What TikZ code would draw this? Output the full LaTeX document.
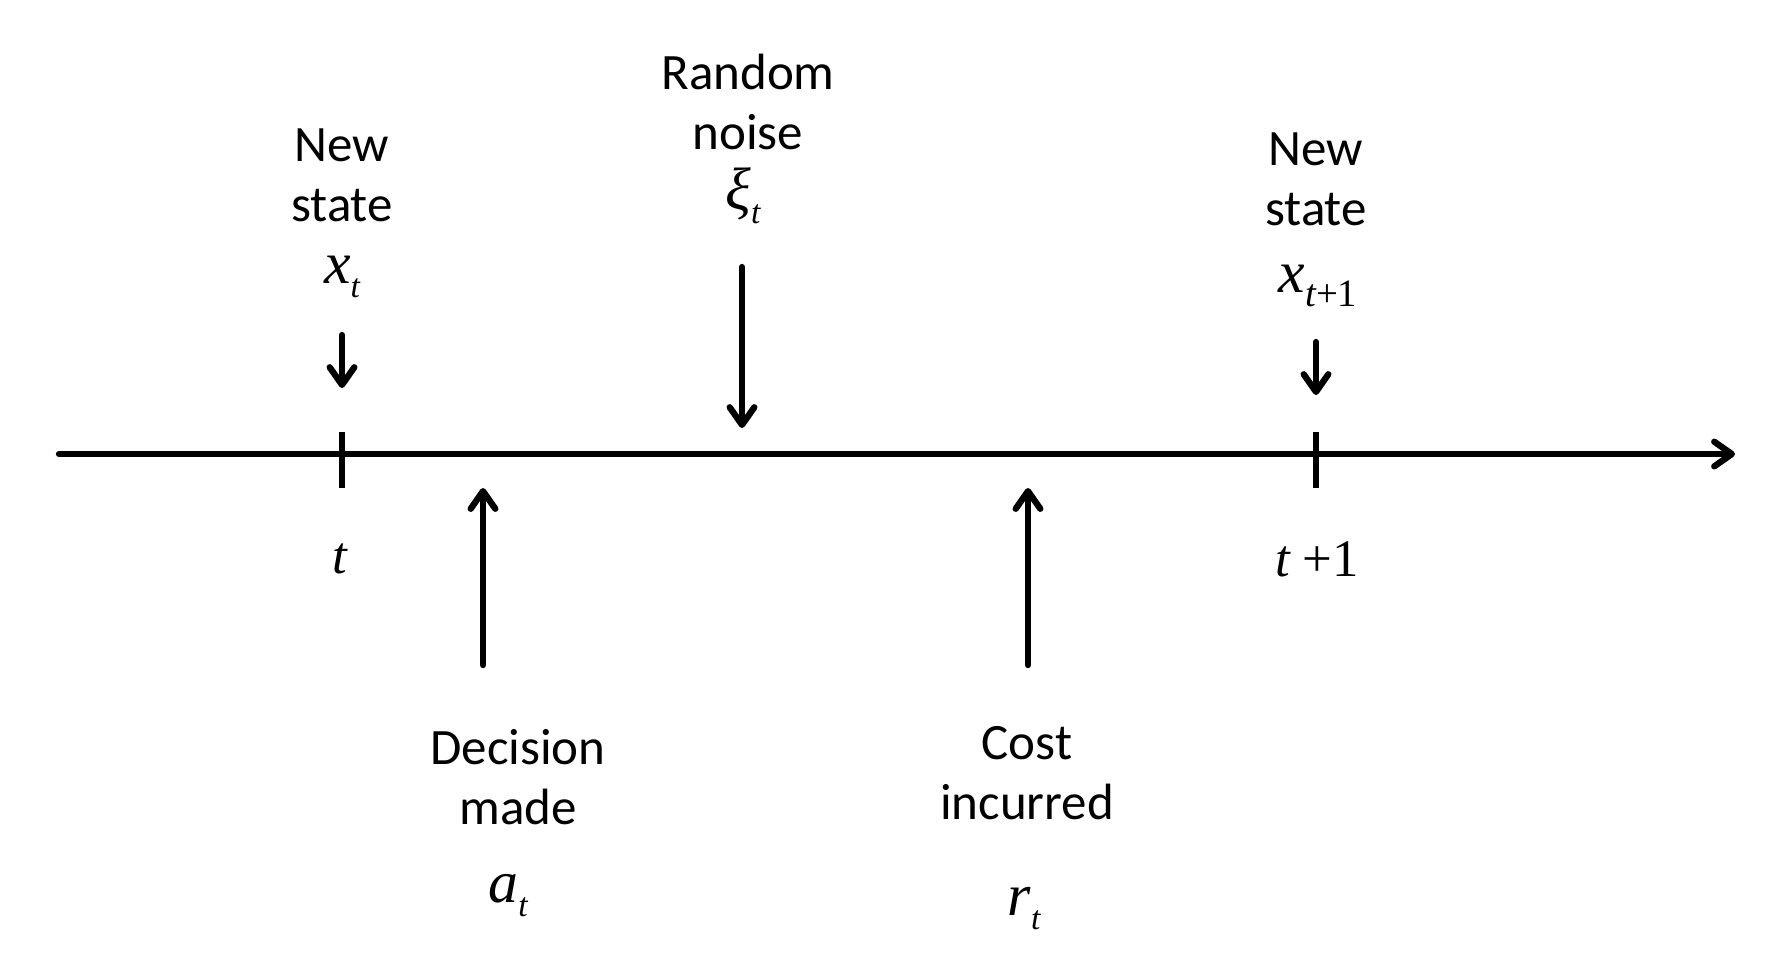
\documentclass[tikz,border=0pt]{standalone}
\usepackage{fontspec}
\setmainfont{Carlito}
\newfontfamily\tms{Liberation Serif}
\newcommand{\vsub}[1]{\raisebox{-4pt}{\fontsize{9.5}{10}\selectfont #1}}
\usetikzlibrary{arrows.meta}
\begin{document}
\begin{tikzpicture}[x=0.01cm, y=-0.01cm,
    word/.style={align=center, inner sep=0pt, font=\fontsize{14.5}{17}\selectfont},
    sym/.style={inner sep=0pt, font=\fontsize{17}{18}\selectfont\tms\itshape},
    big/.style={inner sep=0pt, font=\fontsize{15}{18}\selectfont\tms\itshape},
    arr/.style={line width=1.8pt, line cap=round, -{Straight Barb[length=5pt,width=7pt,round]}}]

    \def\ax{454}
    \def\lw{1.8pt}

    \useasboundingbox (0,0) rectangle (1788,956);

    % time axis and ticks
    \path (59,\ax) coordinate (s) -- (1735,\ax) coordinate (e);
    \path (342,432) coordinate (t0a) -- (342,488) coordinate (t0b);
    \path (1316,432) coordinate (t1a) -- (1316,488) coordinate (t1b);

    % arrow ends
    \path (342,335) coordinate (xa) -- (342,388) coordinate (xb);
    \path (742,267) coordinate (na) -- (742,428) coordinate (nb);
    \path (1316,342) coordinate (ya) -- (1316,395) coordinate (yb);
    \path (483,665) coordinate (da) -- (483,488) coordinate (db);
    \path (1028,665) coordinate (ca) -- (1028,488) coordinate (cb);

    \node [word] (new0) at (342,175) {New\\state};
    \node [sym] (x0) at (342,277) {x\vsub{t}};
    \node [word] (rnd) at (748,102) {Random\\noise};
    \node [sym] (xi) at (743,196) {ξ\vsub{t}};
    \node [word] (new1) at (1316,179) {New\\state};
    \node [sym] (x1) at (1318,286) {x\vsub{\fontsize{11}{12}\selectfont t\upshape +1}};

    \node [big] (tl0) at (340,559) {t};
    \node [big] (tl1) at (1317,559) {t\hspace{0.25em}\upshape +1};

    \node [word] (dec) at (518,777) {Decision\\made};
    \node [sym] (at) at (508,896) {a\vsub{t}};
    \node [word] (cst) at (1027,773) {Cost\\incurred};
    \node [sym] (rt) at (1024,909) {r\vsub{t}};

    \draw[arr] (s) -- (e);
    \draw[line width=\lw] (t0a) -- (t0b);
    \draw[line width=\lw] (t1a) -- (t1b);

    \draw[arr] (xa) -- (xb);
    \draw[arr] (na) -- (nb);
    \draw[arr] (ya) -- (yb);
    \draw[arr] (da) -- (db);
    \draw[arr] (ca) -- (cb);

\end{tikzpicture}
\end{document}
